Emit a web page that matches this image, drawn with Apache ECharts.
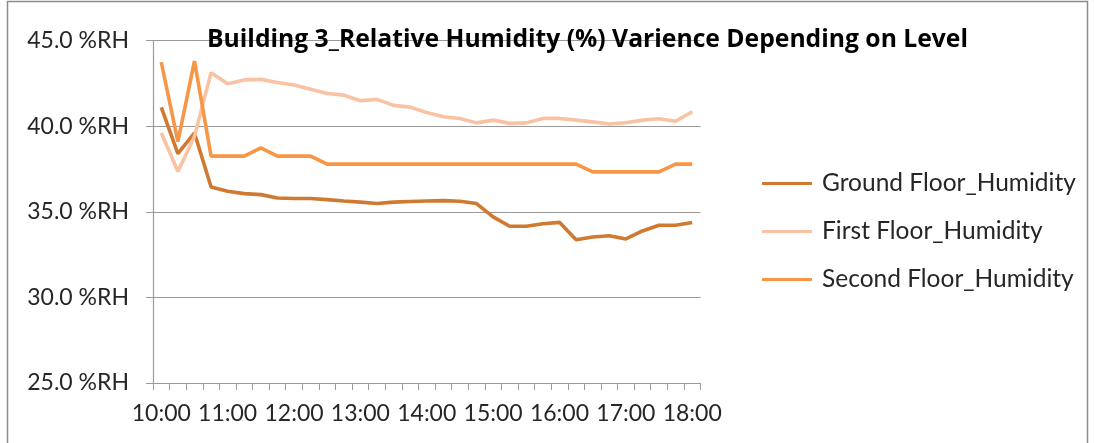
<!DOCTYPE html>
<html>
<head>
<meta charset="utf-8">
<script src="https://cdn.jsdelivr.net/npm/echarts@6/dist/echarts.min.js"></script>
<style>html,body{margin:0;padding:0;background:#fff;}#c{width:1095px;height:443px;}</style>
</head>
<body>
<div id="c"></div>
<script>
const categories = ['10:00','10:15','10:30','10:45','11:00','11:15','11:30','11:45','12:00','12:15','12:30','12:45','13:00','13:15','13:30','13:45','14:00','14:15','14:30','14:45','15:00','15:15','15:30','15:45','16:00','16:15','16:30','16:45','17:00','17:15','17:30','17:45','18:00'];
const groundFloor = [41.1, 38.4, 39.6, 36.45, 36.2, 36.06, 36.0, 35.8, 35.77, 35.77, 35.71, 35.63, 35.56, 35.48, 35.56, 35.6, 35.63, 35.65, 35.61, 35.48, 34.7, 34.15, 34.15, 34.3, 34.38, 33.37, 33.53, 33.6, 33.41, 33.88, 34.21, 34.21, 34.37];
const firstFloor = [39.6, 37.35, 39.4, 43.12, 42.47, 42.7, 42.73, 42.55, 42.4, 42.15, 41.91, 41.81, 41.48, 41.56, 41.21, 41.11, 40.8, 40.55, 40.45, 40.19, 40.35, 40.16, 40.19, 40.45, 40.45, 40.35, 40.25, 40.12, 40.2, 40.35, 40.43, 40.29, 40.84];
const secondFloor = [43.73, 39.1, 43.8, 38.25, 38.25, 38.25, 38.73, 38.25, 38.25, 38.25, 37.78, 37.78, 37.78, 37.78, 37.78, 37.78, 37.78, 37.78, 37.78, 37.78, 37.78, 37.78, 37.78, 37.78, 37.78, 37.78, 37.33, 37.33, 37.33, 37.33, 37.33, 37.78, 37.78];
const seriesNames = ['Ground Floor_Humidity', 'First Floor_Humidity', 'Second Floor_Humidity'];
const titleText = 'Building 3_Relative Humidity (%) Varience Depending on Level';

const FONT = 'Lato, "Open Sans", sans-serif';
const colors = ['#CF7A30', '#F9C3A3', '#F79646'];
const chart = echarts.init(document.getElementById('c'), null, {renderer: 'canvas'});
const mk = (name, data, i) => ({
  name: name, type: 'line', data: data, symbol: 'none', smooth: false,
  lineStyle: {width: 3.6, color: colors[i]}, itemStyle: {color: colors[i]}
});
chart.setOption({
  animation: false,
  textStyle: {fontFamily: FONT},
  graphic: [{type: 'rect', shape: {x: 7.5, y: 1.5, width: 1080, height: 500}, style: {fill: 'none', stroke: '#8c8c8c', lineWidth: 1.5}, z: 0}],
  title: {text: titleText, left: 207, top: 26, padding: 0, z: 10,
    textStyle: {fontFamily: '"Open Sans", Lato, sans-serif', fontSize: 24.7, fontWeight: 'bold', color: '#000', lineHeight: 28}},
  legend: {orient: 'vertical', left: 762, top: 171, padding: 0, itemWidth: 50, itemHeight: 14, itemGap: 23,
    icon: 'path://M0,6 L50,6 L50,9 L0,9 Z',
    textStyle: {fontFamily: FONT, fontSize: 24.5, color: '#262626', lineHeight: 24, padding: [0,0,0,5]},
    data: seriesNames},
  grid: {left: 153, right: 394.5, top: 40.5, bottom: 60},
  xAxis: {type: 'category', data: categories, boundaryGap: true,
    axisLine: {lineStyle: {color: '#9a9a9a', width: 1.2}},
    axisTick: {show: true, interval: 0, length: 7, lineStyle: {color: '#9a9a9a'}},
    axisLabel: {interval: 3, margin: 19, fontFamily: FONT, fontSize: 23, color: '#262626'},
    splitLine: {show: false}},
  yAxis: {type: 'value', min: 25, max: 45, interval: 5,
    axisLine: {show: true, lineStyle: {color: '#9a9a9a', width: 1.2}},
    axisTick: {show: true, length: 7, lineStyle: {color: '#9a9a9a'}},
    axisLabel: {margin: 24, fontFamily: FONT, fontSize: 23, color: '#262626', formatter: v => v.toFixed(1) + ' %RH'},
    splitLine: {show: true, lineStyle: {color: '#9a9a9a', width: 1.2}}},
  series: [mk(seriesNames[0], groundFloor, 0), mk(seriesNames[1], firstFloor, 1), mk(seriesNames[2], secondFloor, 2)]
});
</script>
</body>
</html>
